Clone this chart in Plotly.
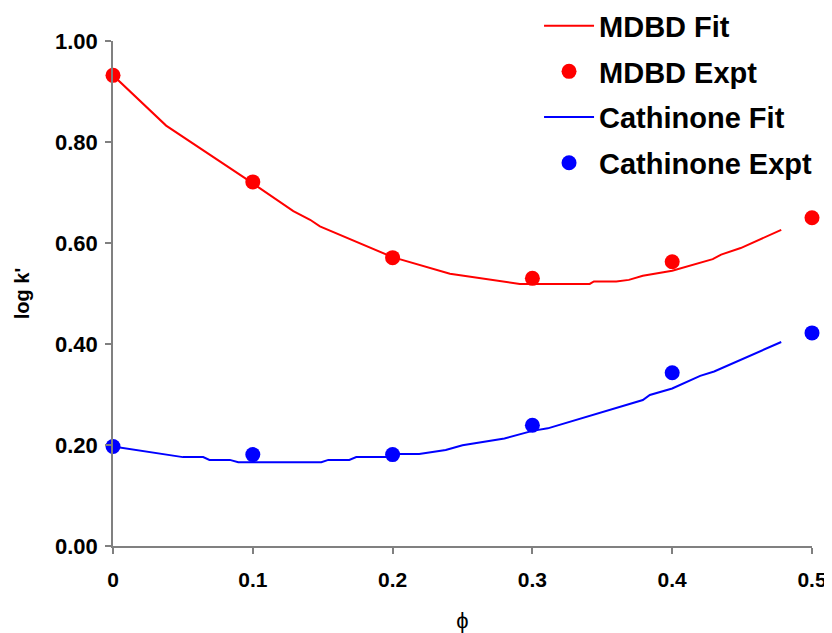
import plotly.graph_objects as go

phi_expt = [0, 0.1, 0.2, 0.3, 0.4, 0.5]
mdbd_expt = [0.932, 0.721, 0.571, 0.530, 0.563, 0.650]
cath_expt = [0.197, 0.181, 0.181, 0.239, 0.343, 0.422]

mdbd_fit_x = [0, 0.038, 0.099, 0.129, 0.141, 0.148, 0.2, 0.219, 0.241, 0.291,
              0.341, 0.344, 0.36, 0.369, 0.379, 0.4, 0.429, 0.435, 0.449, 0.478]
mdbd_fit_y = [0.932, 0.8325, 0.72, 0.663, 0.646, 0.633, 0.572, 0.557, 0.539, 0.519,
              0.519, 0.524, 0.524, 0.527, 0.535, 0.545, 0.568, 0.577, 0.590, 0.626]

cath_fit_x = [0, 0.05, 0.0645, 0.069, 0.0836, 0.0896, 0.149, 0.154, 0.169, 0.174,
              0.199, 0.205, 0.219, 0.238, 0.25, 0.28, 0.300, 0.311, 0.379, 0.384,
              0.4, 0.42, 0.43, 0.478]
cath_fit_y = [0.197, 0.176, 0.176, 0.1705, 0.1705, 0.166, 0.166, 0.1705, 0.1705, 0.176,
              0.176, 0.182, 0.182, 0.190, 0.1996, 0.213, 0.228, 0.233, 0.289, 0.299,
              0.312, 0.337, 0.3455, 0.404]

x_ticks = [0, 0.1, 0.2, 0.3, 0.4, 0.5]
x_tick_text = ["0", "0.1", "0.2", "0.3", "0.4", "0.5"]
y_ticks = [0, 0.2, 0.4, 0.6, 0.8, 1.0]
y_tick_text = ["0.00", "0.20", "0.40", "0.60", "0.80", "1.00"]

RED = "#FF0000"
BLUE = "#0000FF"
FONT = "Liberation Sans, Arial, sans-serif"

fig = go.Figure()
fig.add_trace(go.Scatter(x=mdbd_fit_x, y=mdbd_fit_y, mode="lines", name="MDBD Fit",
                         line=dict(color=RED, width=2), legendgroup="a", cliponaxis=False))
fig.add_trace(go.Scatter(x=phi_expt, y=mdbd_expt, mode="markers", name="MDBD Expt",
                         marker=dict(color=RED, size=15), legendgroup="b", cliponaxis=False))
fig.add_trace(go.Scatter(x=cath_fit_x, y=cath_fit_y, mode="lines", name="Cathinone Fit",
                         line=dict(color=BLUE, width=2), legendgroup="c", cliponaxis=False))
fig.add_trace(go.Scatter(x=phi_expt, y=cath_expt, mode="markers", name="Cathinone Expt",
                         marker=dict(color=BLUE, size=15), legendgroup="d", cliponaxis=False))

fig.update_layout(
    width=824, height=625,
    margin=dict(l=105, r=20, t=33, b=87, autoexpand=False),
    paper_bgcolor="white", plot_bgcolor="white",
    font=dict(family=FONT, color="black"),
    showlegend=True,
    legend=dict(
        x=0.6095, y=1.0806, xanchor="left", yanchor="top",
        font=dict(family=FONT, size=29, weight="bold", color="black"),
        bgcolor="rgba(0,0,0,0)", tracegroupgap=5, itemwidth=50,
    ),
    xaxis=dict(
        range=[0, 0.5], tickvals=x_ticks, ticktext=x_tick_text,
        showline=True, linecolor="#808080", linewidth=1.5,
        ticks="outside", ticklen=6, tickcolor="#808080", tickwidth=1.5,
        showgrid=False, zeroline=False, automargin=False,
        tickfont=dict(family=FONT, size=21, weight="bold", color="black"),
        ticklabelstandoff=8,
        title=dict(text="ϕ", font=dict(family=FONT, size=22, color="black"), standoff=24),
    ),
    yaxis=dict(
        range=[0, 1.0], tickvals=y_ticks, ticktext=y_tick_text,
        showline=True, linecolor="#808080", linewidth=1.5,
        ticks="outside", ticklen=6, tickcolor="#808080", tickwidth=1.5,
        showgrid=False, zeroline=False, automargin=False,
        tickfont=dict(family=FONT, size=22, weight="bold", color="black"),
        ticklabelstandoff=3,
        title=dict(text="log k'", font=dict(family=FONT, size=20, weight="bold", color="black"), standoff=20),
    ),
)

fig.write_html("out.html")
